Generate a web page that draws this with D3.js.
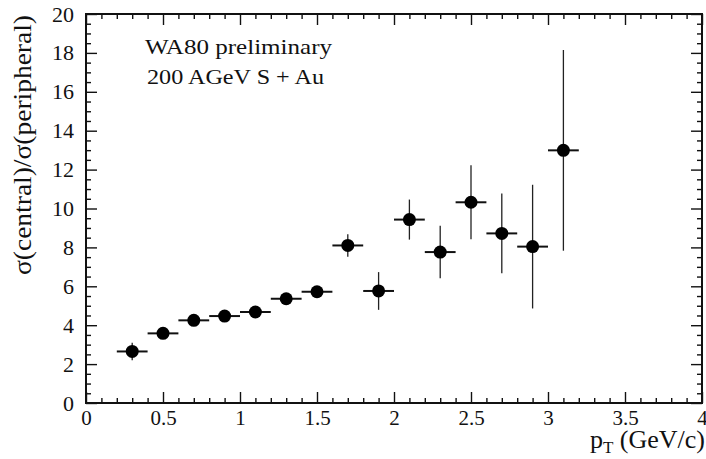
<!DOCTYPE html>
<html>
<head>
<meta charset="utf-8">
<script src="https://cdn.jsdelivr.net/npm/d3@7"></script>
<style>
  body { margin: 0; background: #fff; }
  svg text { font-family: "Liberation Serif", "DejaVu Serif", serif; fill: #111; }
</style>
</head>
<body>
<svg id="chart"></svg>
<script>
var w = 706; // Width of the SVG element
var h = 459; // Height of the SVG element
var margin = { top: 14, right: 4, bottom: 56, left: 86 };

// data
var pt = [0.3, 0.5, 0.7, 0.9, 1.1, 1.3, 1.5, 1.7, 1.9, 2.1, 2.3, 2.5, 2.7, 2.9, 3.1];
var ratio = [2.65, 3.58, 4.25, 4.47, 4.68, 5.36, 5.72, 8.1, 5.76, 9.43, 7.76, 10.32, 8.72, 8.04, 12.99];
var ratioErr = [0.45, 0.2, 0.15, 0.15, 0.15, 0.15, 0.15, 0.58, 0.97, 1.03, 1.35, 1.9, 2.05, 3.18, 5.16];
var ptErr = [0.1, 0.1, 0.1, 0.1, 0.1, 0.1, 0.1, 0.1, 0.1, 0.1, 0.1, 0.1, 0.1, 0.1, 0.1];

// tick labels
var xTicks = [0, 0.5, 1, 1.5, 2, 2.5, 3, 3.5, 4];
var yTicks = [0, 2, 4, 6, 8, 10, 12, 14, 16, 18, 20];

var svg = d3.select("#chart")
  .attr("width", w)
  .attr("height", h);

var xScale = d3.scaleLinear()
  .domain([0, 4])
  .range([margin.left, w - margin.right]);

var yScale = d3.scaleLinear()
  .domain([0, 20])
  .range([h - margin.bottom, margin.top]);

var xMinor = d3.range(0, 41).map(d => d / 10).filter(d => xTicks.indexOf(d) < 0);
var yMinor = d3.range(0, 41).map(d => d / 2).filter(d => yTicks.indexOf(d) < 0);

function styleAxis(g) {
  g.select(".domain").remove();
  g.selectAll("line").attr("stroke", "#111").attr("stroke-width", 1.4);
}

// bottom axis (ticks inward)
svg.append("g")
  .attr("transform", `translate(0,${h - margin.bottom})`)
  .call(d3.axisBottom(xScale).tickValues(xTicks).tickSize(-11).tickPadding(7).tickFormat(d3.format("")))
  .call(styleAxis)
  .selectAll("text")
  .attr("dy", "0.71em")
  .style("font-size", "21px");

svg.append("g")
  .attr("transform", `translate(0,${h - margin.bottom})`)
  .call(d3.axisBottom(xScale).tickValues(xMinor).tickSize(-5).tickFormat(""))
  .call(styleAxis);

// top axis
svg.append("g")
  .attr("transform", `translate(0,${margin.top})`)
  .call(d3.axisTop(xScale).tickValues(xTicks).tickSize(-11).tickFormat(""))
  .call(styleAxis);

svg.append("g")
  .attr("transform", `translate(0,${margin.top})`)
  .call(d3.axisTop(xScale).tickValues(xMinor).tickSize(-5).tickFormat(""))
  .call(styleAxis);

// left axis
svg.append("g")
  .attr("transform", `translate(${margin.left},0)`)
  .call(d3.axisLeft(yScale).tickValues(yTicks).tickSize(-11).tickPadding(12).tickFormat(d3.format("")))
  .call(styleAxis)
  .selectAll("text")
  .style("font-size", "22px");

svg.append("g")
  .attr("transform", `translate(${margin.left},0)`)
  .call(d3.axisLeft(yScale).tickValues(yMinor).tickSize(-5).tickFormat(""))
  .call(styleAxis);

// right axis
svg.append("g")
  .attr("transform", `translate(${w - margin.right},0)`)
  .call(d3.axisRight(yScale).tickValues(yTicks).tickSize(-11).tickFormat(""))
  .call(styleAxis);

svg.append("g")
  .attr("transform", `translate(${w - margin.right},0)`)
  .call(d3.axisRight(yScale).tickValues(yMinor).tickSize(-5).tickFormat(""))
  .call(styleAxis);

// frame
svg.append("rect")
  .attr("x", xScale(0))
  .attr("y", yScale(20))
  .attr("width", xScale(4) - xScale(0))
  .attr("height", yScale(0) - yScale(20))
  .attr("fill", "none")
  .attr("stroke", "#111")
  .attr("stroke-width", 2);

var data = pt.map((p, i) => ({ p: p, v: ratio[i], e: ratioErr[i], ex: ptErr[i] }));

// vertical error bars
svg.selectAll(".ey")
  .data(data)
  .enter()
  .append("line")
  .attr("class", "ey")
  .attr("x1", d => xScale(d.p))
  .attr("x2", d => xScale(d.p))
  .attr("y1", d => yScale(d.v - d.e))
  .attr("y2", d => yScale(d.v + d.e))
  .attr("stroke", "#222")
  .attr("stroke-width", 1.3);

// horizontal error bars
svg.selectAll(".ex")
  .data(data)
  .enter()
  .append("line")
  .attr("class", "ex")
  .attr("x1", d => xScale(d.p - d.ex))
  .attr("x2", d => xScale(d.p + d.ex))
  .attr("y1", d => yScale(d.v))
  .attr("y2", d => yScale(d.v))
  .attr("stroke", "#111")
  .attr("stroke-width", 2);

svg.selectAll(".pt")
  .data(data)
  .enter()
  .append("circle")
  .attr("class", "pt")
  .attr("cx", d => xScale(d.p))
  .attr("cy", d => yScale(d.v))
  .attr("r", 6.5)
  .attr("fill", "#000");

// annotation
svg.append("text")
  .attr("x", 145)
  .attr("y", 54)
  .attr("textLength", 187)
  .attr("lengthAdjust", "spacingAndGlyphs")
  .style("font-size", "21px")
  .text("WA80 preliminary");

svg.append("text")
  .attr("x", 147)
  .attr("y", 84)
  .attr("textLength", 177)
  .attr("lengthAdjust", "spacingAndGlyphs")
  .style("font-size", "21px")
  .text("200 AGeV S + Au");

// y axis label
svg.append("text")
  .attr("transform", "translate(31,145) rotate(-90)")
  .attr("text-anchor", "middle")
  .attr("textLength", 260)
  .attr("lengthAdjust", "spacingAndGlyphs")
  .style("font-size", "26px")
  .text("σ(central)/σ(peripheral)");

// x axis label
var xl = svg.append("text")
  .attr("x", w - 1)
  .attr("y", 448)
  .attr("text-anchor", "end")
  .style("font-size", "26px");
xl.append("tspan").text("p");
xl.append("tspan").attr("dy", 5).style("font-size", "17px").text("T");
xl.append("tspan").attr("dy", -5).text(" (GeV/c)");
</script>
</body>
</html>
